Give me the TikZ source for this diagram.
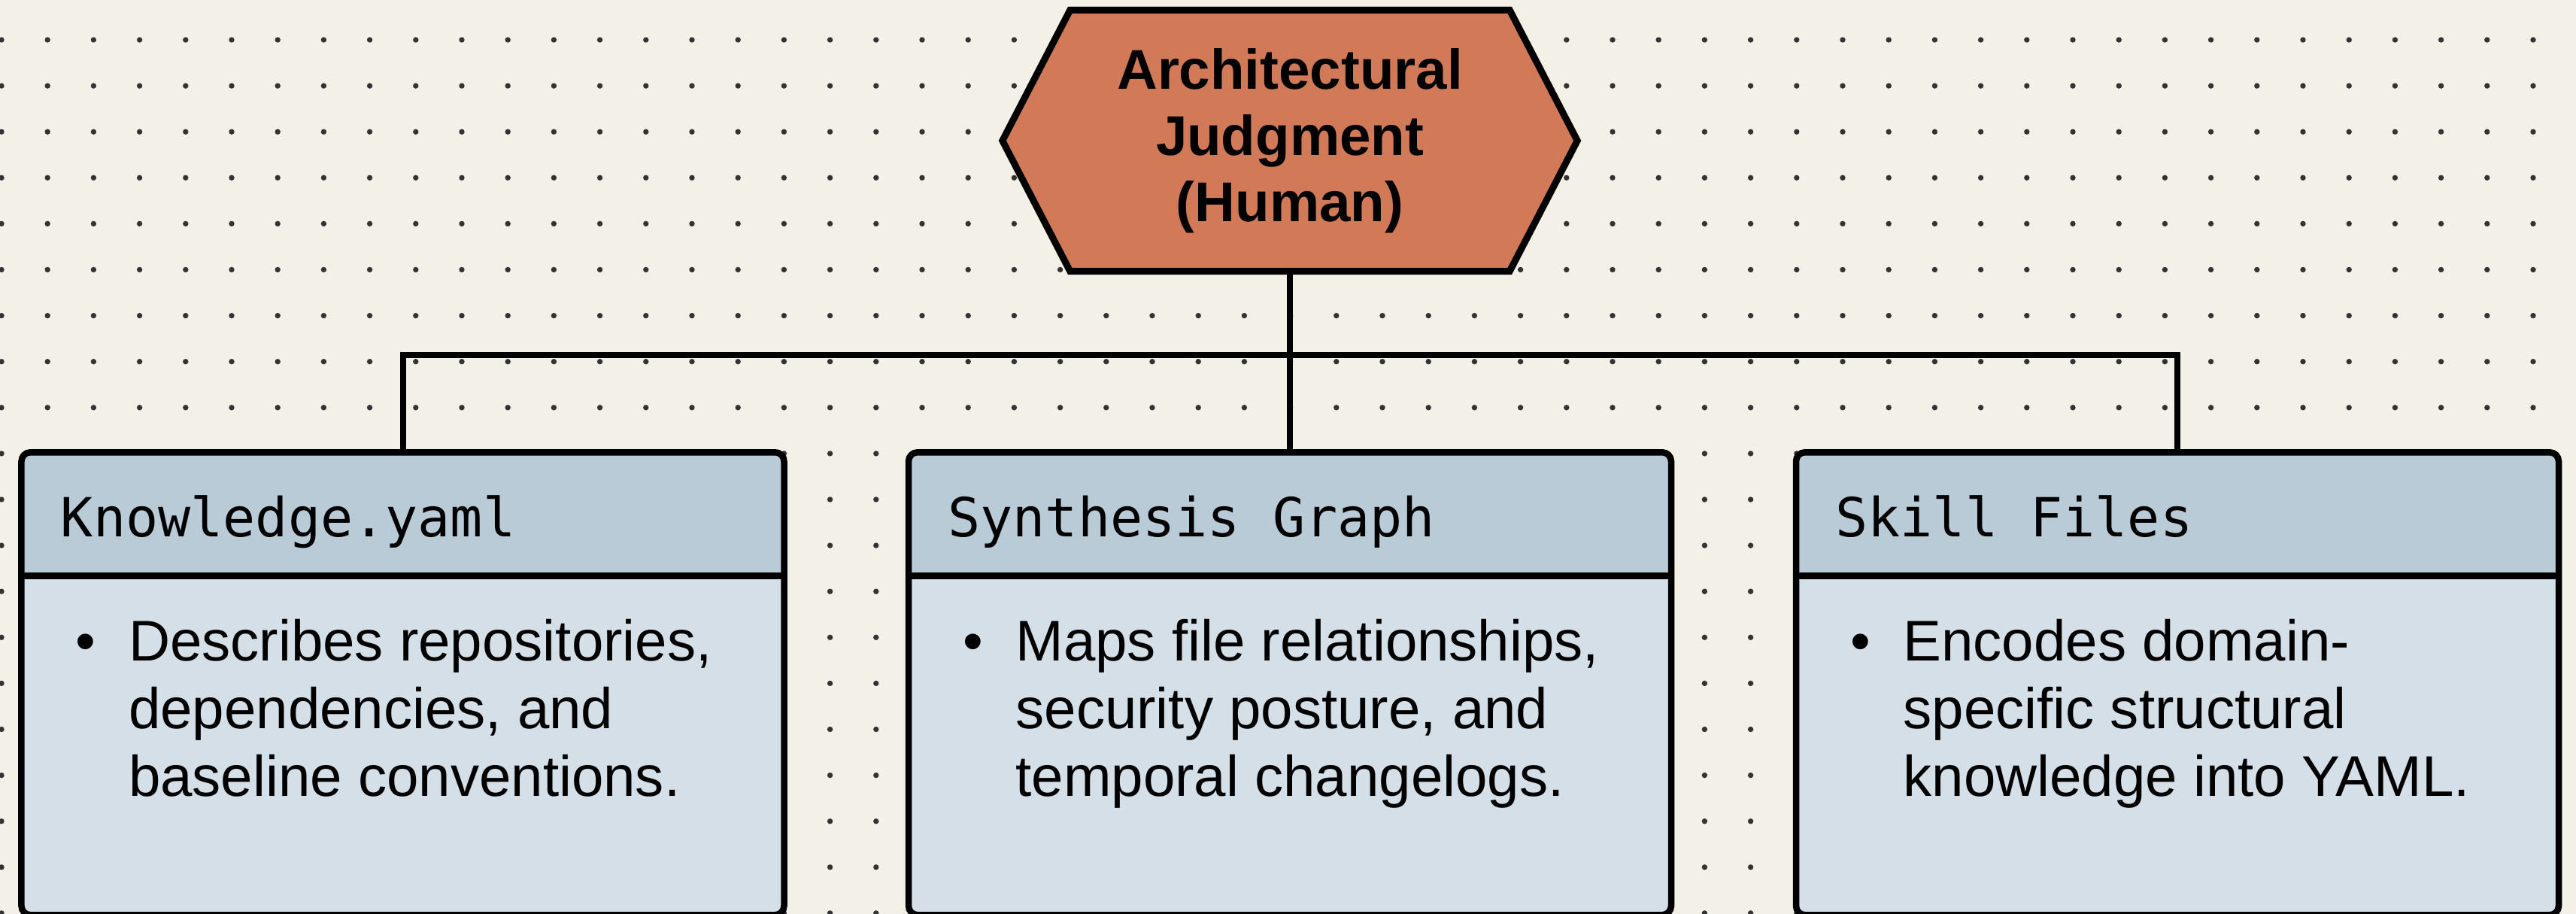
\documentclass[tikz,border=0pt]{standalone}
\usepackage{fontspec}
\setmainfont{Liberation Sans}
\setmonofont{DejaVu Sans Mono}
\usetikzlibrary{calc,positioning,backgrounds}
\definecolor{paper}{HTML}{F3F0E7}
\definecolor{dotgray}{HTML}{333333}
\definecolor{hexorange}{HTML}{D27A58}
\definecolor{headblue}{HTML}{B9CBD7}
\definecolor{bodyblue}{HTML}{D4DFE7}
\def\cardline{0.85mm}

\begin{document}
\begin{tikzpicture}[
		wire/.style={line width=0.8mm, color=black},
		card/.style={draw=black, line width=\cardline, rounded corners=1.2mm, fill=bodyblue,
			minimum width=10.14cm, minimum height=6.15cm, anchor=north, inner sep=0pt,
			path picture={
				\fill[headblue] (path picture bounding box.north west) rectangle ([yshift=-1.64cm]path picture bounding box.north east);
				\draw[line width=\cardline] ([yshift=-1.64cm]path picture bounding box.north west) -- ([yshift=-1.64cm]path picture bounding box.north east);
			}},
		judgtxt/.style={minimum width=5.83cm, minimum height=3.46cm, inner sep=0pt, align=center,
			font=\fontsize{21.2}{25}\selectfont\bfseries},
		headtxt/.style={anchor=base west, inner sep=0pt, font=\fontsize{20.4}{24}\selectfont\ttfamily},
		bullet/.style={anchor=base, inner sep=0pt, font=\fontsize{21.7}{25.6}\selectfont},
		bodytxt/.style={inner sep=0pt, align=left, font=\fontsize{21.7}{25.6}\selectfont}
	]
			%%%%% START %%%%%
			
			\useasboundingbox (0, 0) rectangle (34.25, -12.15);
			
			\begin{scope}[on background layer]
				\fill[paper] (0, 0) rectangle (34.25, -12.15);
				\foreach \i in {0,...,55}
					\foreach \j in {0,...,19}
						\fill[dotgray] (0.02+0.612*\i, -0.53-0.611*\j) circle (0.037);
			\end{scope}
			
			% top: the human judgment hexagon
			\node[judgtxt] (judg) at (17.15, -1.87) {Architectural\\Judgment\\(Human)};
			\begin{scope}[on background layer]
				\draw[line width=0.9mm, fill=hexorange] (judg.north west) -- (judg.north east) -- ([xshift=0.9cm]judg.east)
					-- (judg.south east) -- (judg.south west) -- ([xshift=-0.9cm]judg.west) -- cycle;
			\end{scope}
			
			% the three cards
			\node[card] (know) at (5.355, -5.97) {};
			\node[card] (synth) at (17.15, -5.97) {};
			\node[card] (skill) at (28.95, -5.97) {};
			
			\node[headtxt] (knowhead) at ([xshift=0.56cm, yshift=-1.16cm]know.north west) {Knowledge.yaml};
			\node[headtxt] (synthhead) at ([xshift=0.56cm, yshift=-1.16cm]synth.north west) {Synthesis Graph};
			\node[headtxt] (skillhead) at ([xshift=0.56cm, yshift=-1.16cm]skill.north west) {Skill Files};
			
			\node[bullet] (knowdot) at ([xshift=0.9cm, yshift=-2.81cm]know.north west) {•};
			\node[bullet] (synthdot) at ([xshift=0.9cm, yshift=-2.81cm]synth.north west) {•};
			\node[bullet] (skilldot) at ([xshift=0.9cm, yshift=-2.81cm]skill.north west) {•};
			
			% base of a text node is its last line: two lines below the bullet
			\node[bodytxt, base right=0.42cm of knowdot, yshift=-1.8cm] (knowtxt) {Describes repositories,\\dependencies, and\\baseline conventions.};
			\node[bodytxt, base right=0.42cm of synthdot, yshift=-1.8cm] (synthtxt) {Maps file relationships,\\security posture, and\\temporal changelogs.};
			\node[bodytxt, base right=0.42cm of skilldot, yshift=-1.8cm] (skilltxt) {Encodes domain-\\specific structural\\knowledge into YAML.};
			
			% connectors
			\coordinate (bus) at (17.15, -4.72);
			\draw[wire] (judg.south) -- (synth.north);
			\draw[wire] (know.north) |- (bus) -| (skill.north);
			
			%%%%% END %%%%%
		\end{tikzpicture}
\end{document}
